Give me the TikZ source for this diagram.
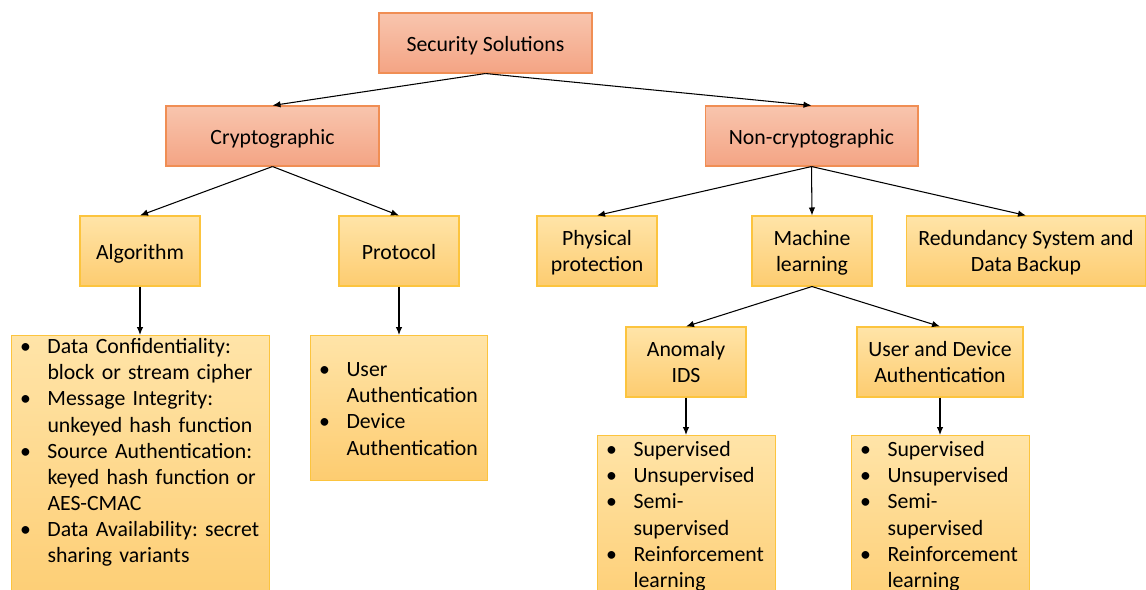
\documentclass[tikz,border=0pt]{standalone}
\usepackage{fontspec}
\setmainfont{Carlito}
\usepackage{tikz}
\usetikzlibrary{positioning,arrows.meta}
\definecolor{salmontop}{RGB}{248,197,174}
\definecolor{salmonbot}{RGB}{244,164,132}
\definecolor{salmonline}{RGB}{240,142,84}
\definecolor{goldtop}{RGB}{255,228,168}
\definecolor{goldbot}{RGB}{253,204,112}
\definecolor{goldline}{RGB}{252,196,62}
\newcommand{\itembul}{\hspace*{0.17cm}\makebox[0.55cm][l]{\textbullet}}
\newcommand{\itemcont}{\hspace*{0.72cm}}
\frenchspacing
\tikzset{
  % caselle principali (salmone)
  topbox/.style={
    rectangle, draw=salmonline, line width=0.6pt,
    top color=salmontop, bottom color=salmonbot,
    minimum width=4.26cm, minimum height=1.2cm,
    text height=0.41cm, text depth=0.06cm,
    font=\fontsize{12.4}{14.9}\selectfont
  },
  % caselle secondarie (oro)
  subbox/.style={
    rectangle, draw=goldline, line width=0.6pt,
    top color=goldtop, bottom color=goldbot,
    minimum width=2.4cm, minimum height=1.4cm,
    align=center, inner sep=0pt,
    font=\fontsize{12.4}{14.9}\selectfont
  },
  oneline/.style={text height=0.41cm, text depth=0.06cm},
  twoline/.style={text height=0.88cm, text depth=0.06cm},
  % elenchi puntati
  listbox/.style={
    subbox, anchor=north west, align=left,
    inner xsep=0pt, inner ysep=0pt
  },
  link/.style={-{Latex[length=0.16cm,width=0.13cm]}, line width=0.6pt}
}

\begin{document}
\begin{tikzpicture}[x=0.02cm, y=-0.02cm]
\clip (0,0) rectangle (1146,589);

% Livello superiore
\node[topbox] (security) at (485.5,43) {Security Solutions};

% Secondo livello
\node[topbox] (crypto) at (272.5,136) {Cryptographic};
\node[topbox] (noncrypto) at (811.5,136) {Non-cryptographic};

% Terzo livello
\node[subbox, oneline] (algorithm) at (140,251) {Algorithm};
\node[subbox, oneline] (protocol) at (399,251) {Protocol};
\node[subbox, twoline] (physical) at (597,251) {Physical\\protection};
\node[subbox, twoline] (ml) at (812,251) {Machine\\learning};
\node[subbox, twoline, minimum width=4.8cm] (redundancy) at (1026,251) {Redundancy System and\\Data Backup};

% Elenchi sotto Algorithm e Protocol
\node[listbox, text width=5.16cm, text height=0.36cm, text depth=5.4cm] (alglist) at (11,335) {
  \itembul Data Confidentiality:\\
  \itemcont block or stream cipher\\
  \itembul Message Integrity:\\
  \itemcont unkeyed hash function\\
  \itembul Source Authentication:\\
  \itemcont keyed hash function or\\
  \itemcont AES-CMAC\\
  \itembul Data Availability: secret\\
  \itemcont sharing variants
};
\node[listbox, text width=3.54cm, text height=0.82cm, text depth=2.08cm] (protlist) at (310,335) {
  \itembul User\\
  \itemcont Authentication\\
  \itembul Device\\
  \itemcont Authentication
};

% Quarto livello - Machine learning
\node[subbox, twoline] (anomaly) at (686,362) {Anomaly\\IDS};
\node[subbox, twoline, minimum width=3.32cm] (userdev) at (940,362) {User and Device\\Authentication};

\node[listbox, text width=3.56cm, text height=0.42cm, text depth=3.4cm] (anomlist) at (597,435) {
  \itembul Supervised\\
  \itembul Unsupervised\\
  \itembul Semi-\\
  \itemcont supervised\\
  \itembul Reinforcement\\
  \itemcont learning
};
\node[listbox, text width=3.56cm, text height=0.42cm, text depth=3.4cm] (udlist) at (851,435) {
  \itembul Supervised\\
  \itembul Unsupervised\\
  \itembul Semi-\\
  \itemcont supervised\\
  \itembul Reinforcement\\
  \itemcont learning
};

% Collegamenti
\draw[link] (security.south) -- (crypto.north);
\draw[link] (security.south) -- (noncrypto.north);
\draw[link] (crypto.south) -- (algorithm.north);
\draw[link] (crypto.south) -- (protocol.north);
\draw[link] (noncrypto.south) -- (physical.north);
\draw[link] (noncrypto.south) -- (ml.north);
\draw[link] (noncrypto.south) -- (redundancy.north);
\draw[link] (algorithm.south) -- (alglist.north -| algorithm.south);
\draw[link] (protocol.south) -- (protlist.north -| protocol.south);
\draw[link] (ml.south) -- (anomaly.north);
\draw[link] (ml.south) -- (userdev.north);
\draw[link] (anomaly.south) -- (anomlist.north -| anomaly.south);
\draw[link] (userdev.south) -- (udlist.north -| userdev.south);

\end{tikzpicture}
\end{document}
